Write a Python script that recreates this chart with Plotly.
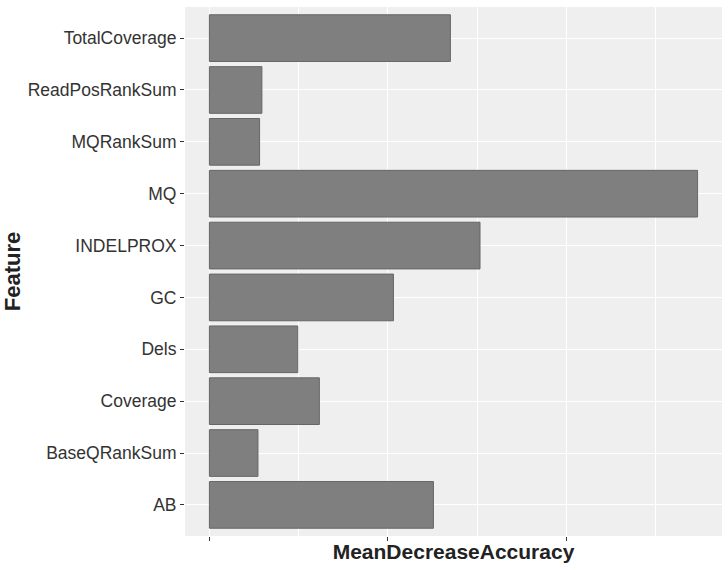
import plotly.graph_objects as go

features = ["AB", "BaseQRankSum", "Coverage", "Dels", "GC", "INDELPROX",
            "MQ", "MQRankSum", "ReadPosRankSum", "TotalCoverage"]
mean_decrease_accuracy = [12.55, 2.72, 6.16, 4.95, 10.31, 15.16,
                          27.35, 2.81, 2.94, 13.5]
x_tick_values = [0, 10, 20]

xmax = max(mean_decrease_accuracy)
pad = 0.05 * xmax

fig = go.Figure(go.Bar(
    x=mean_decrease_accuracy,
    y=features,
    orientation="h",
    width=0.9,
    marker=dict(color="#7F7F7F", line=dict(color="#666666", width=1)),
))

fig.update_layout(
    width=728, height=570,
    margin=dict(l=185, r=6, t=7, b=34, autoexpand=False),
    paper_bgcolor="white",
    plot_bgcolor="#EFEFEF",
    font=dict(family="Liberation Sans, Arial, sans-serif", color="#333333"),
    showlegend=False,
    bargap=0.1,
)

fig.update_xaxes(
    automargin=False,
    range=[-pad, xmax + pad],
    tickvals=x_tick_values,
    showticklabels=False,
    ticks="outside", ticklen=4, tickcolor="#333333", tickwidth=1,
    showgrid=True, gridcolor="white", gridwidth=1.4,
    minor=dict(dtick=5, tick0=5, showgrid=True, gridcolor="white", gridwidth=0.7),
    zeroline=False, showline=False,
    title=dict(text="<b>MeanDecreaseAccuracy</b>", font=dict(size=21, color="#222222"), standoff=4),
)

fig.update_yaxes(
    automargin=False,
    range=[-0.6, len(features) - 0.4],
    ticks="outside", ticklen=4, tickcolor="#333333", tickwidth=1,
    tickfont=dict(size=17.5, color="#333333"),
    showgrid=True, gridcolor="white", gridwidth=1.4,
    zeroline=False, showline=False,
    title=dict(text="<b>Feature</b>", font=dict(size=22, color="#222222"), standoff=2),
)

fig.write_html(
    "out.html",
    config={"displayModeBar": False},
    post_script="document.body.style.margin='0';document.body.style.overflow='hidden';",
)
